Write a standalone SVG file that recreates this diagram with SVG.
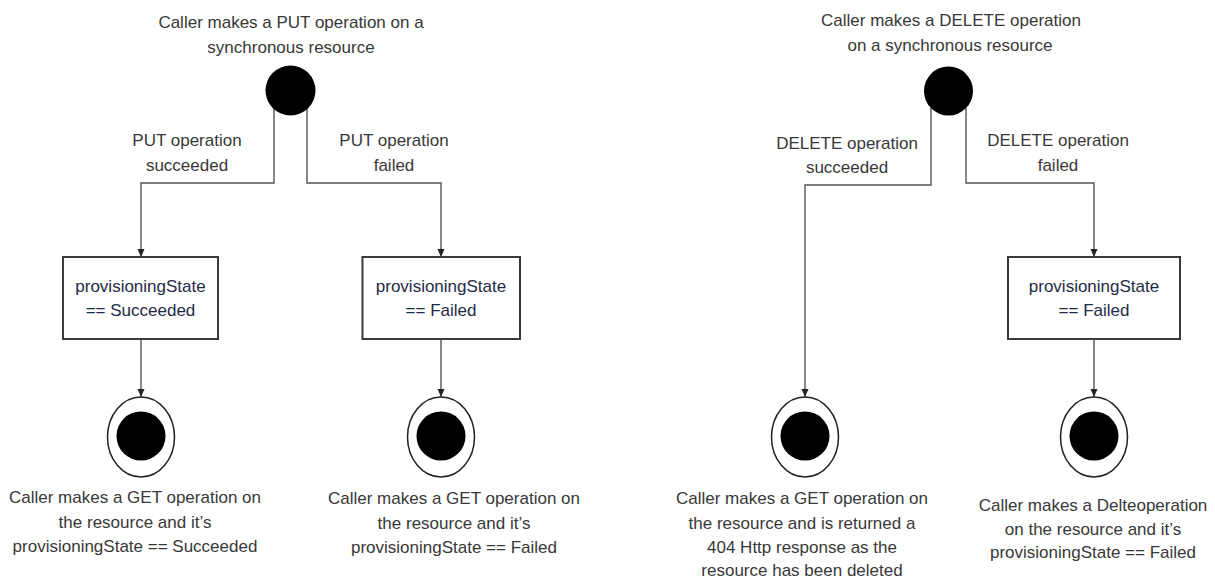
<svg xmlns="http://www.w3.org/2000/svg" width="1215" height="579" viewBox="0 0 1215 579">
<style>
text{font-family:"Liberation Sans",Arial,sans-serif;font-size:17px;fill:#383838;text-anchor:middle}
.bt{fill:#1f2a48}
.box{fill:#fff;stroke:#3a3a3a;stroke-width:2}
.start{fill:#000}
.endo{fill:#fff;stroke:#222;stroke-width:1.5}
.endi{fill:#000}
.conn{fill:none;stroke:#555;stroke-width:1.4}
</style>
<defs>
<marker id="arr" viewBox="0 0 8 8" refX="8" refY="4" markerWidth="8" markerHeight="8" markerUnits="userSpaceOnUse" orient="auto">
<path d="M0,0.5 L8,4 L0,7.5 Z" fill="#222"/>
</marker>
</defs>
<rect width="1215" height="579" fill="#fff"/>
<g id="connectors">
<path class="conn" d="M274,109 V183 H141 V257" marker-end="url(#arr)"/>
<path class="conn" d="M307,109 V183 H441 V257" marker-end="url(#arr)"/>
<path class="conn" d="M141,339 V397" marker-end="url(#arr)"/>
<path class="conn" d="M441,339 V397" marker-end="url(#arr)"/>
<path class="conn" d="M931,108 V185 H805 V397" marker-end="url(#arr)"/>
<path class="conn" d="M966,108 V183 H1094 V257" marker-end="url(#arr)"/>
<path class="conn" d="M1094,339 V397" marker-end="url(#arr)"/>
</g>
<g id="labels">
<text x="187" y="146">PUT operation</text>
<text x="187" y="171">succeeded</text>
<text x="394" y="146">PUT operation</text>
<text x="394" y="171">failed</text>
<text x="847" y="149">DELETE operation</text>
<text x="847" y="173">succeeded</text>
<text x="1058" y="146">DELETE operation</text>
<text x="1058" y="171">failed</text>
</g>
<g id="put-start">
<circle class="start" cx="290.5" cy="90.5" r="25"/>
<text x="291" y="28">Caller makes a PUT operation on a</text>
<text x="291" y="53">synchronous resource</text>
</g>
<g id="put-succeeded-state">
<rect class="box" x="63" y="257" width="155" height="82"/>
<text class="bt" x="140.5" y="292">provisioningState</text>
<text class="bt" x="140.5" y="316">== Succeeded</text>
</g>
<g id="put-failed-state">
<rect class="box" x="362.5" y="257" width="157.5" height="82"/>
<text class="bt" x="441" y="292">provisioningState</text>
<text class="bt" x="441" y="316">== Failed</text>
</g>
<g id="put-succeeded-end">
<ellipse class="endo" cx="141" cy="437" rx="33.5" ry="40"/>
<circle class="endi" cx="141" cy="436" r="24.5"/>
<text x="135" y="503">Caller makes a GET operation on</text>
<text x="135" y="528">the resource and it’s</text>
<text x="135" y="552">provisioningState == Succeeded</text>
</g>
<g id="put-failed-end">
<ellipse class="endo" cx="441" cy="437" rx="33.5" ry="40"/>
<circle class="endi" cx="441" cy="436" r="24.5"/>
<text x="454" y="504">Caller makes a GET operation on</text>
<text x="454" y="529">the resource and it’s</text>
<text x="454" y="553">provisioningState == Failed</text>
</g>
<g id="delete-start">
<circle class="start" cx="948.5" cy="91" r="24.5"/>
<text x="951" y="26">Caller makes a DELETE operation</text>
<text x="950" y="51">on a synchronous resource</text>
</g>
<g id="delete-failed-state">
<rect class="box" x="1008" y="257" width="172" height="82"/>
<text class="bt" x="1094" y="292">provisioningState</text>
<text class="bt" x="1094" y="316">== Failed</text>
</g>
<g id="delete-succeeded-end">
<ellipse class="endo" cx="805" cy="437" rx="33.5" ry="40"/>
<circle class="endi" cx="805" cy="436" r="24.5"/>
<text x="802" y="504">Caller makes a GET operation on</text>
<text x="802" y="529">the resource and is returned a</text>
<text x="802" y="553">404 Http response as the</text>
<text x="802" y="576">resource has been deleted</text>
</g>
<g id="delete-failed-end">
<ellipse class="endo" cx="1094" cy="437" rx="33.5" ry="40"/>
<circle class="endi" cx="1094" cy="436" r="24.5"/>
<text x="1093" y="511">Caller makes a Delteoperation</text>
<text x="1093" y="535">on the resource and it’s</text>
<text x="1093" y="558">provisioningState == Failed</text>
</g>
</svg>
